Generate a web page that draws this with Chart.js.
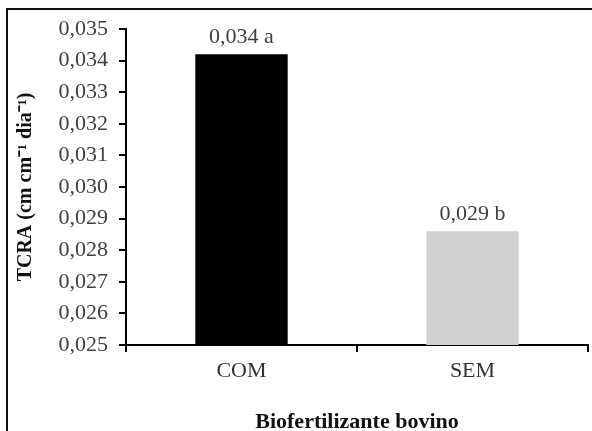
<!DOCTYPE html>
<html>
<head>
<meta charset="utf-8">
<script src="https://cdn.jsdelivr.net/npm/chart.js@4"></script>
<style>
    html, body { margin: 0; padding: 0; background: #fff; }
    #wrap { position: relative; width: 592px; height: 431px; }
    #frame {
        position: absolute; left: 6px; top: 8px; right: 0; bottom: 0;
        border-top: 2px solid #111; border-left: 2px solid #111;
        pointer-events: none;
    }
</style>
</head>
<body>
<div id="wrap">
    <canvas id="chart" width="592" height="431"></canvas>
    <div id="frame"></div>
</div>
<script>
    /* ── DATA ─────────────────────────────────────────────── */
    const categories = ['COM', 'SEM'];
    const values     = [0.0342, 0.0286];
    const letters    = ['a', 'b'];
    const barColors  = ['#000000', '#d0d0d0'];
    const yMin  = 0.025;
    const yMax  = 0.035;
    const yStep = 0.001;

    const SERIF = "'Liberation Serif', 'Times New Roman', serif";
    const comma = v => Number(v).toFixed(3).replace('.', ',');

    /* value + letter above each bar */
    const barLabels = {
        id: 'barLabels',
        afterDatasetsDraw(chart) {
            const { ctx } = chart;
            const meta = chart.getDatasetMeta(0);
            ctx.save();
            ctx.font = '22px ' + SERIF;
            ctx.fillStyle = '#404040';
            ctx.textAlign = 'center';
            ctx.textBaseline = 'bottom';
            meta.data.forEach((bar, i) => {
                ctx.fillText(comma(values[i]) + ' ' + letters[i], bar.x, bar.y - 6);
            });
            ctx.restore();
        }
    };

    new Chart(document.getElementById('chart'), {
        type: 'bar',
        data: {
            labels: categories,
            datasets: [{
                data: values,
                backgroundColor: barColors,
                borderWidth: 0,
                categoryPercentage: 1,
                barPercentage: 0.4,
            }]
        },
        options: {
            responsive: false,
            animation: false,
            layout: { padding: { left: 0, top: 29, right: 4, bottom: 0 } },
            plugins: {
                legend: { display: false },
                tooltip: { enabled: false }
            },
            scales: {
                x: {
                    grid: {
                        drawOnChartArea: false,
                        drawTicks: true,
                        tickLength: 7,
                        color: '#000',
                        lineWidth: 2,
                    },
                    border: { display: true, color: '#000', width: 2 },
                    ticks: {
                        color: '#333',
                        padding: 6,
                        font: { family: SERIF, size: 22 }
                    },
                    title: {
                        display: true,
                        text: 'Biofertilizante bovino',
                        color: '#111',
                        font: { family: SERIF, size: 22, weight: 'bold', lineHeight: 0.8 },
                        padding: { top: 0, bottom: 0 }
                    },
                    afterFit: s => { s.height = 86; }
                },
                y: {
                    min: yMin,
                    max: yMax,
                    grid: {
                        drawOnChartArea: false,
                        drawTicks: true,
                        tickLength: 7,
                        color: '#000',
                        lineWidth: 2,
                    },
                    border: { display: true, color: '#000', width: 2 },
                    ticks: {
                        stepSize: yStep,
                        color: '#404040',
                        padding: 11,
                        font: { family: SERIF, size: 22 },
                        callback: v => comma(v)
                    },
                    title: {
                        display: true,
                        text: 'TCRA (cm cm⁻¹ dia⁻¹)',
                        color: '#111',
                        font: { family: SERIF, size: 20, weight: 'bold' },
                        padding: { top: 14, bottom: 0 }
                    },
                    afterFit: s => { s.width = 126; }
                }
            }
        },
        plugins: [barLabels]
    });
</script>
</body>
</html>
